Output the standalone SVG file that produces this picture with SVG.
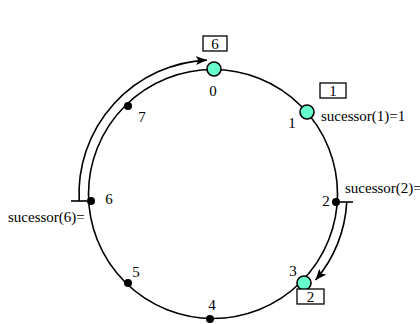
<svg xmlns="http://www.w3.org/2000/svg" width="420" height="324" viewBox="0 0 420 324">
<style>
.t{font-family:"Liberation Serif","Times New Roman",serif;font-size:15px;fill:#000}
.c{text-anchor:middle}
.ring{fill:none;stroke:#000;stroke-width:1.6}
.arr{fill:none;stroke:#000;stroke-width:1.6}
.dot{fill:#000}
.act{fill:#66FFCC;stroke:#000;stroke-width:1.6}
.box{fill:#fff;stroke:#000;stroke-width:1.3}
</style>
<defs>
<marker id="ah" markerUnits="userSpaceOnUse" markerWidth="12" markerHeight="10" refX="11" refY="4.5" orient="auto">
<path d="M0,0 L11,4.5 L0,9 L2.5,4.5 z" fill="#000"/>
</marker>
</defs>
<rect width="420" height="324" fill="#fff"/>
<g id="connectors">
<circle class="ring" cx="213" cy="194" r="124.5"/>
<path class="arr" d="M79.2,201 A134,134 0 0 1 206.9,60.1" marker-end="url(#ah)"/>
<path class="arr" d="M346.8,201.9 A134,134 0 0 1 315.6,280.1" marker-end="url(#ah)"/>
<line class="arr" x1="71" y1="201" x2="87" y2="201"/>
<line class="arr" x1="340" y1="202" x2="353" y2="202"/>
</g>
<g id="n0">
<circle class="act" cx="214" cy="69" r="7"/>
<text class="t c" x="213" y="96">0</text>
<rect class="box" x="203" y="36" width="24" height="15"/>
<text class="t c" x="215" y="49">6</text>
</g>
<g id="n1">
<circle class="act" cx="307" cy="112" r="7"/>
<text class="t c" x="292" y="128">1</text>
<rect class="box" x="320" y="83" width="26" height="15"/>
<text class="t c" x="333" y="96">1</text>
<text class="t" x="321" y="121">sucessor(1)=1</text>
</g>
<g id="n2">
<circle class="dot" cx="336" cy="202" r="4"/>
<text class="t c" x="326" y="206">2</text>
<text class="t" x="345" y="193">sucessor(2)=</text>
</g>
<g id="n3">
<circle class="act" cx="304" cy="283" r="7"/>
<text class="t c" x="293" y="276">3</text>
<rect class="box" x="297" y="289" width="27" height="15"/>
<text class="t c" x="310.5" y="302">2</text>
</g>
<g id="n4">
<circle class="dot" cx="210" cy="319" r="4"/>
<text class="t c" x="212" y="310">4</text>
</g>
<g id="n5">
<circle class="dot" cx="128" cy="283" r="4"/>
<text class="t c" x="136" y="277">5</text>
</g>
<g id="n6">
<circle class="dot" cx="91" cy="201" r="4"/>
<text class="t c" x="109" y="204">6</text>
<text class="t" x="8" y="222">sucessor(6)=</text>
</g>
<g id="n7">
<circle class="dot" cx="128" cy="106" r="4"/>
<text class="t c" x="142" y="122">7</text>
</g>
</svg>
